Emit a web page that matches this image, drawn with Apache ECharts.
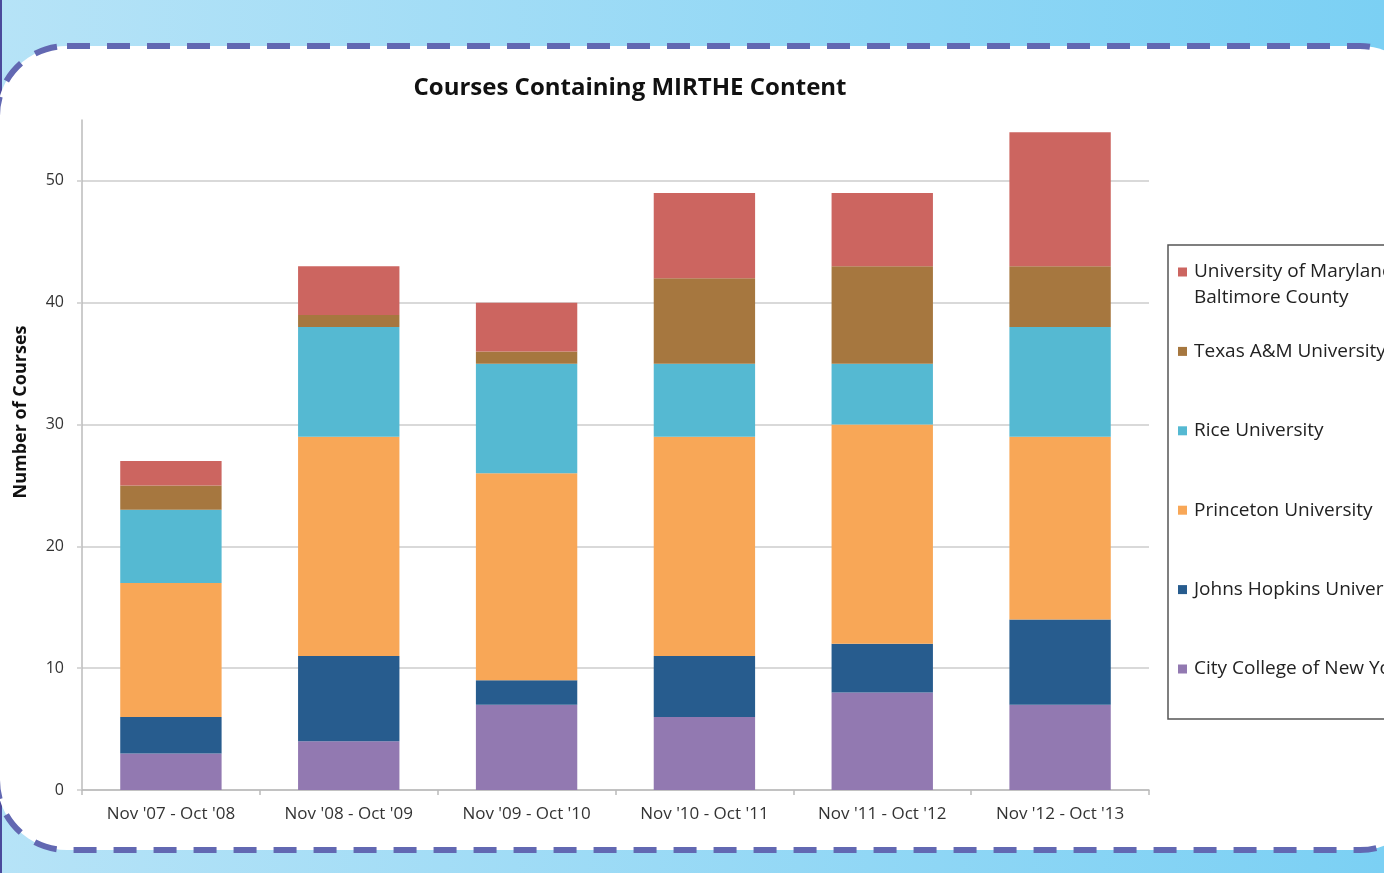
<!DOCTYPE html>
<html>
<head>
<meta charset="utf-8">
<script src="https://cdn.jsdelivr.net/npm/echarts@6/dist/echarts.min.js"></script>
<style>
  html, body { margin: 0; padding: 0; }
  #chart { width: 1384px; height: 873px; }
</style>
</head>
<body>
<div id="chart"></div>
<script>
const categories = ["Nov '07 - Oct '08", "Nov '08 - Oct '09", "Nov '09 - Oct '10", "Nov '10 - Oct '11", "Nov '11 - Oct '12", "Nov '12 - Oct '13"];

// stacked bottom to top
const cityCollege = [3, 4, 7, 6, 8, 7];
const johnsHopkins = [3, 7, 2, 5, 4, 7];
const princeton = [11, 18, 17, 18, 18, 15];
const rice = [6, 9, 9, 6, 5, 9];
const texasAM = [2, 1, 1, 7, 8, 5];
const umbc = [2, 4, 4, 7, 6, 11];

const yTicks = [0, 10, 20, 30, 40, 50];

const UMBC = 'University of Maryland, Baltimore County';
const legendOrder = [UMBC, 'Texas A&M University', 'Rice University', 'Princeton University', 'Johns Hopkins University', 'City College of New York'];

const chart = echarts.init(document.getElementById('chart'));

const font = '"Open Sans", "Liberation Sans", sans-serif';

const makeSeries = (name, data, color) => ({
  name,
  type: 'bar',
  stack: 'total',
  data,
  barWidth: '57%',
  itemStyle: { color },
  emphasis: { disabled: true }
});

const option = {
  animation: false,
  backgroundColor: {
    type: 'linear', x: 0, y: 0, x2: 1, y2: 0,
    colorStops: [
      { offset: 0, color: '#b6e3f7' },
      { offset: 1, color: '#7bd0f4' }
    ]
  },
  textStyle: { fontFamily: font },
  graphic: [
    {
      type: 'line',
      z: -11,
      shape: { x1: 1, y1: 0, x2: 1, y2: 873 },
      style: { stroke: '#4b4a9c', lineWidth: 2 }
    },
    {
      type: 'rect',
      z: -10,
      shape: { x: -3, y: 46, width: 1433, height: 804, r: 70 },
      style: { fill: '#ffffff', stroke: '#6268b2', lineWidth: 6, lineDash: [23, 17] }
    }
  ],
  title: {
    text: 'Courses Containing MIRTHE Content',
    left: 625,
    textAlign: 'center',
    top: 71,
    textStyle: { fontFamily: font, fontWeight: 'bold', fontSize: 24, color: '#111' }
  },
  legend: {
    orient: 'vertical',
    left: 1168,
    top: 245,
    data: legendOrder,
    icon: 'rect',
    itemWidth: 9,
    itemHeight: 9,
    itemGap: 1.4,
    padding: [-12, 30, 11, 10],
    borderColor: '#555',
    borderWidth: 1.5,
    formatter: name => name === UMBC
      ? ' \nUniversity of Maryland,\nBaltimore County'
      : ' \n' + name + '\n ',
    textStyle: { fontFamily: font, fontSize: 19, color: '#222', lineHeight: 26, padding: [0, 0, 0, 2] }
  },
  grid: { left: 82, right: 235, top: 120, bottom: 83 },
  xAxis: {
    type: 'category',
    data: categories,
    axisLine: { lineStyle: { color: '#bbb', width: 1.5 } },
    axisTick: { show: true, length: 5, lineStyle: { color: '#bbb', width: 1.5 } },
    axisLabel: { color: '#333', fontSize: 17, margin: 16, fontFamily: font }
  },
  yAxis: {
    type: 'value',
    name: 'Number of Courses',
    nameLocation: 'middle',
    nameGap: 52,
    nameTextStyle: { fontWeight: 'bold', fontSize: 18, color: '#111', fontFamily: font, padding: [0, 0, 0, 86] },
    min: 0,
    max: 55,
    interval: 10,
    axisLine: { show: true, lineStyle: { color: '#bbb', width: 1.5 } },
    axisTick: { show: true, length: 5, lineStyle: { color: '#ccc', width: 1.5 } },
    axisLabel: {
      color: '#333', fontSize: 16, margin: 18, fontFamily: font,
      showMaxLabel: false,
      formatter: v => yTicks.includes(v) ? String(v) : ''
    },
    splitLine: { showMaxLine: false, lineStyle: { color: '#ccc', width: 1.5 } }
  },
  series: [
    makeSeries('City College of New York', cityCollege, '#9279b1'),
    makeSeries('Johns Hopkins University', johnsHopkins, '#275c8e'),
    makeSeries('Princeton University', princeton, '#f8a757'),
    makeSeries('Rice University', rice, '#55b9d2'),
    makeSeries('Texas A&M University', texasAM, '#a6773f'),
    makeSeries(UMBC, umbc, '#cc6560')
  ]
};

chart.setOption(option);
</script>
</body>
</html>
